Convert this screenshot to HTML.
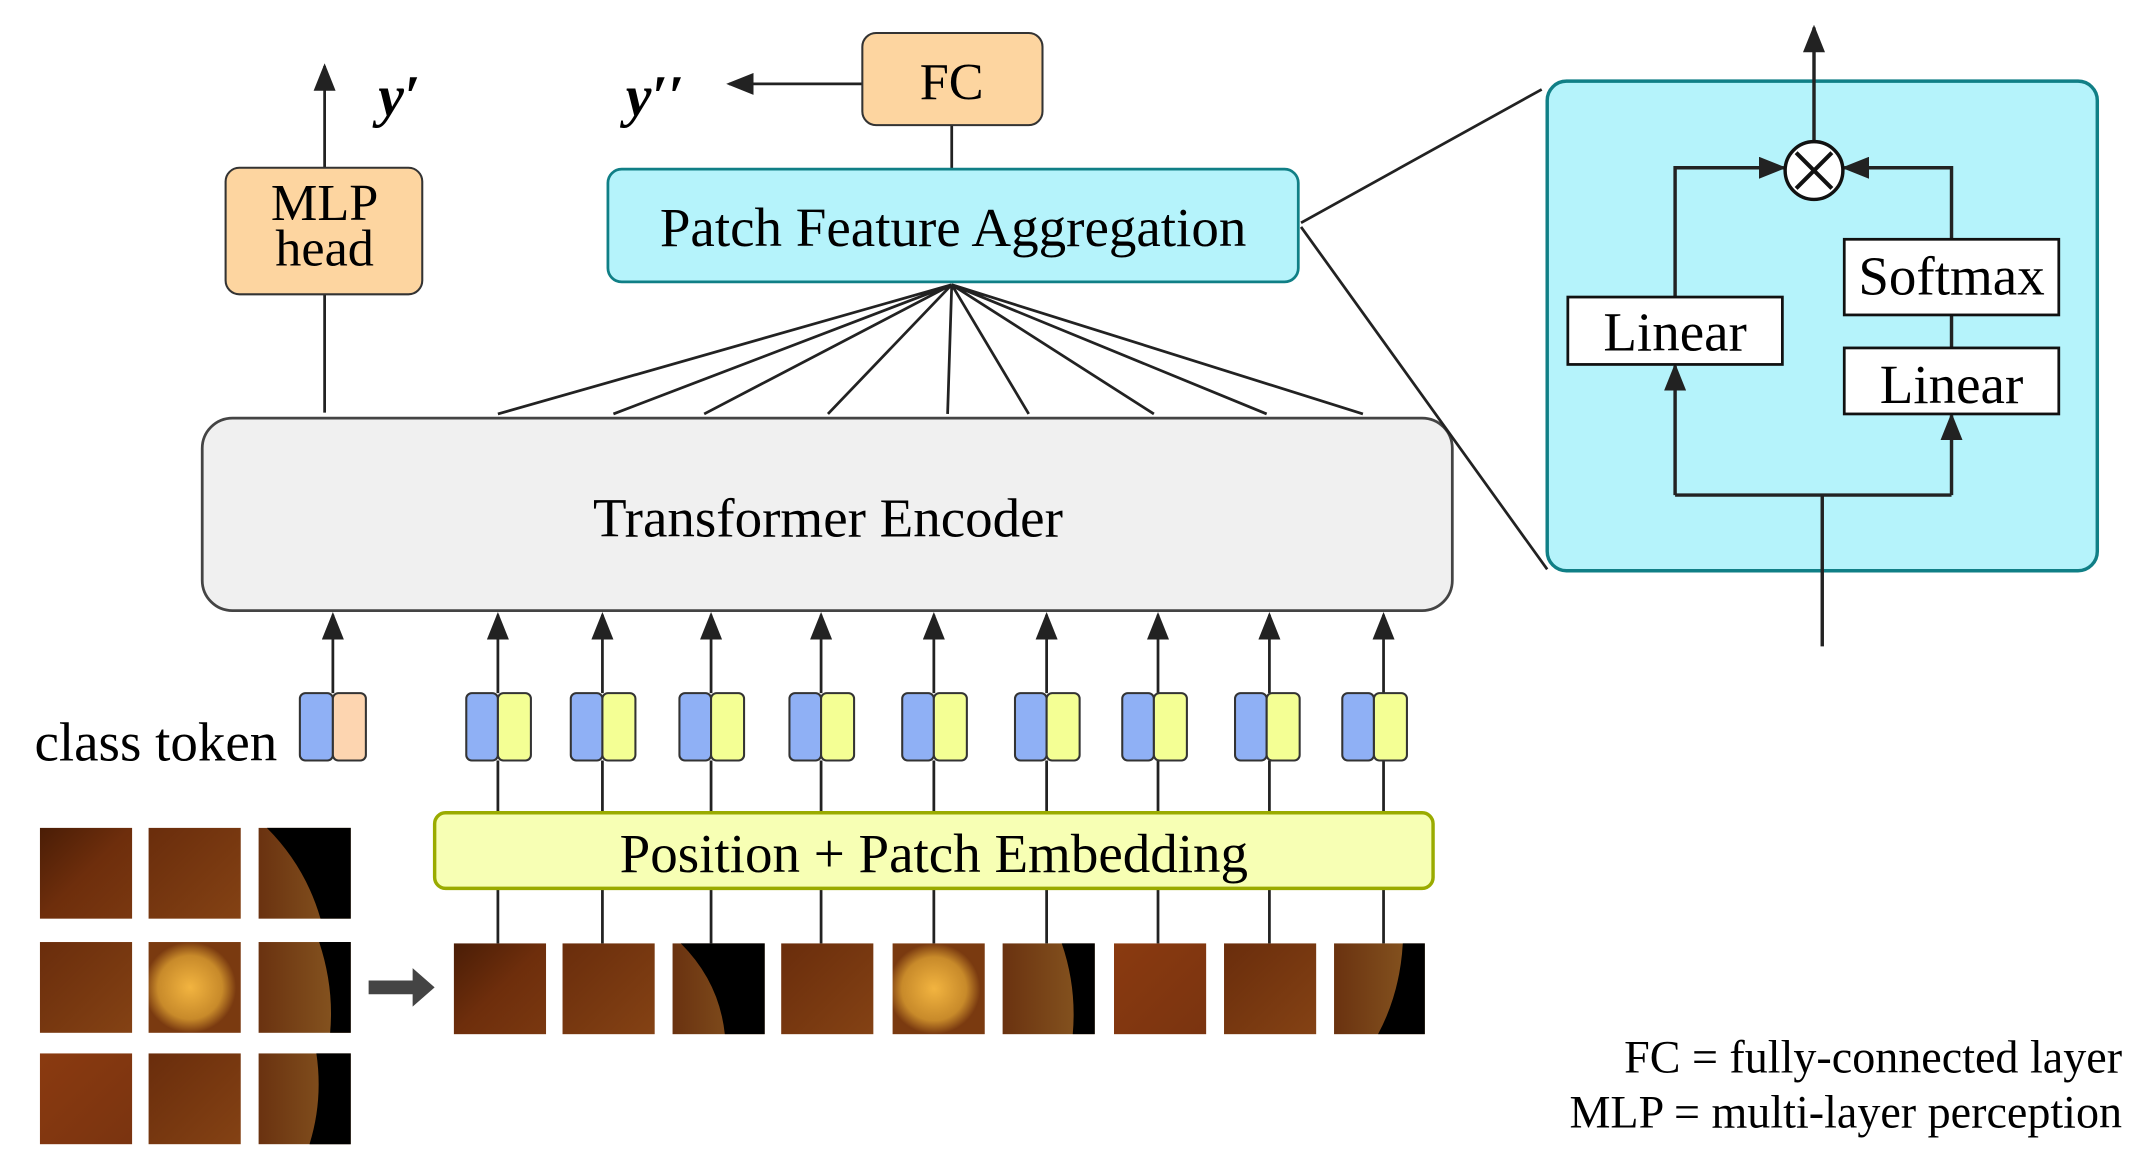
<!DOCTYPE html>
<html><head><meta charset="utf-8"><style>html,body{margin:0;padding:0;background:#fff}svg{display:block}text{font-family:"Liberation Serif",serif;fill:#000}</style></head><body>
<svg width="2151" height="1164" viewBox="0 0 1564 846.4" xmlns="http://www.w3.org/2000/svg" font-family="Liberation Serif, serif">
<defs>
<marker id="ah" markerWidth="20" markerHeight="16" refX="18" refY="8" orient="auto" markerUnits="userSpaceOnUse" viewBox="0 0 20 16"><path d="M0,0 L20,8 L0,16 z" fill="#222"/></marker>
<linearGradient id="g1" x1="0" y1="0" x2="1" y2="1"><stop offset="0" stop-color="#4a1d06"/><stop offset=".5" stop-color="#6e2e0c"/><stop offset="1" stop-color="#7a3810"/></linearGradient>
<linearGradient id="g2" x1="0" y1="0" x2="1" y2="1"><stop offset="0" stop-color="#6a2d0c"/><stop offset="1" stop-color="#844214"/></linearGradient>
<linearGradient id="g3" x1="0" y1="0" x2="1" y2="1"><stop offset="0" stop-color="#8a3a10"/><stop offset="1" stop-color="#7a3410"/></linearGradient>
<linearGradient id="g4" x1="0" y1="0" x2="1" y2="0"><stop offset="0" stop-color="#6a3210"/><stop offset="1" stop-color="#8a5a22"/></linearGradient>
<radialGradient id="gd" cx=".45" cy=".5" r=".5"><stop offset="0" stop-color="#f2b440"/><stop offset=".7" stop-color="#c88a2a"/><stop offset="1" stop-color="#7a3a10"/></radialGradient>
</defs>
<g>
<rect x="29" y="602" width="67" height="66" fill="url(#g1)"/>
<rect x="108" y="602" width="67" height="66" fill="url(#g2)"/>
<rect x="188" y="602" width="67" height="66" fill="url(#g4)"/><path d="M194,602 Q222,630 233,668 L255,668 L255,602Z" fill="#000"/>
<rect x="29" y="685" width="67" height="66" fill="url(#g2)"/>
<rect x="108" y="685" width="67" height="66" fill="url(#gd)"/>
<rect x="188" y="685" width="67" height="66" fill="url(#g4)"/><path d="M232,685 Q243,718 240,751 L255,751 L255,685Z" fill="#000"/>
<rect x="29" y="766" width="67" height="66" fill="url(#g3)"/>
<rect x="108" y="766" width="67" height="66" fill="url(#g2)"/>
<rect x="188" y="766" width="67" height="66" fill="url(#g4)"/><path d="M230,766 Q235,800 225,832 L255,832 L255,766Z" fill="#000"/>
</g>
<path d="M268,713 H300 V704 L316,718 L300,732 V723 H268Z" fill="#444"/>
<g>
<rect x="330" y="686" width="67" height="66" fill="url(#g1)"/>
<rect x="409" y="686" width="67" height="66" fill="url(#g2)"/>
<rect x="489" y="686" width="67" height="66" fill="url(#g4)"/><path d="M495,686 Q523,714 527,752 L556,752 L556,686Z" fill="#000"/>
<rect x="568" y="686" width="67" height="66" fill="url(#g2)"/>
<rect x="649" y="686" width="67" height="66" fill="url(#gd)"/>
<rect x="729" y="686" width="67" height="66" fill="url(#g4)"/><path d="M772,686 Q783,718 780,752 L796,752 L796,686Z" fill="#000"/>
<rect x="810" y="686" width="67" height="66" fill="url(#g3)"/>
<rect x="890" y="686" width="67" height="66" fill="url(#g2)"/>
<rect x="970" y="686" width="66" height="66" fill="url(#g4)"/><path d="M1020,686 Q1018,722 1002,752 L1036,752 L1036,686Z" fill="#000"/>
</g>
<g stroke="#222" stroke-width="2" fill="none">
<path d="M362,686V553M438,686V553M517,686V553M597,686V553M679,686V553M761,686V553M842,686V553M923,686V553M1006,686V553"/>
<path d="M242,504V447" marker-end="url(#ah)"/>
<path d="M362,504V447" marker-end="url(#ah)"/>
<path d="M438,504V447" marker-end="url(#ah)"/>
<path d="M517,504V447" marker-end="url(#ah)"/>
<path d="M597,504V447" marker-end="url(#ah)"/>
<path d="M679,504V447" marker-end="url(#ah)"/>
<path d="M761,504V447" marker-end="url(#ah)"/>
<path d="M842,504V447" marker-end="url(#ah)"/>
<path d="M923,504V447" marker-end="url(#ah)"/>
<path d="M1006,504V447" marker-end="url(#ah)"/>
</g>
<rect x="316" y="591" width="726" height="55" rx="8" fill="#f7ffb4" stroke="#9aab00" stroke-width="2.5"/>
<text x="679" y="634" font-size="40" text-anchor="middle">Position + Patch Embedding</text>
<g stroke="#333" stroke-width="1.5">
<rect x="218" y="504" width="24" height="49" rx="4" fill="#8fb0f5"/><rect x="242" y="504" width="24" height="49" rx="4" fill="#fdd5b0"/>
<rect x="339" y="504" width="23" height="49" rx="4" fill="#8fb0f5"/><rect x="362" y="504" width="24" height="49" rx="4" fill="#f4ff94"/>
<rect x="415" y="504" width="23" height="49" rx="4" fill="#8fb0f5"/><rect x="438" y="504" width="24" height="49" rx="4" fill="#f4ff94"/>
<rect x="494" y="504" width="23" height="49" rx="4" fill="#8fb0f5"/><rect x="517" y="504" width="24" height="49" rx="4" fill="#f4ff94"/>
<rect x="574" y="504" width="23" height="49" rx="4" fill="#8fb0f5"/><rect x="597" y="504" width="24" height="49" rx="4" fill="#f4ff94"/>
<rect x="656" y="504" width="23" height="49" rx="4" fill="#8fb0f5"/><rect x="679" y="504" width="24" height="49" rx="4" fill="#f4ff94"/>
<rect x="738" y="504" width="23" height="49" rx="4" fill="#8fb0f5"/><rect x="761" y="504" width="24" height="49" rx="4" fill="#f4ff94"/>
<rect x="816" y="504" width="23" height="49" rx="4" fill="#8fb0f5"/><rect x="839" y="504" width="24" height="49" rx="4" fill="#f4ff94"/>
<rect x="898" y="504" width="23" height="49" rx="4" fill="#8fb0f5"/><rect x="921" y="504" width="24" height="49" rx="4" fill="#f4ff94"/>
<rect x="976" y="504" width="23" height="49" rx="4" fill="#8fb0f5"/><rect x="999" y="504" width="24" height="49" rx="4" fill="#f4ff94"/>
</g>
<text x="25" y="553" font-size="40">class token</text>
<rect x="147" y="304" width="909" height="140" rx="22" fill="#f0f0f0" stroke="#444" stroke-width="2"/>
<text x="602" y="390" font-size="40" text-anchor="middle">Transformer Encoder</text>
<g stroke="#222" stroke-width="2" fill="none">
<path d="M692,207L362,301M692,207L446,301M692,207L512,301M692,207L602,301M692,207L689,301M692,207L748,301M692,207L839,301M692,207L921,301M692,207L991,301"/>
<path d="M236,300V214M692,123V91"/>
<path d="M236,122V48" marker-end="url(#ah)"/>
<path d="M627,61H530" marker-end="url(#ah)"/>
<path d="M946,162L1121,65M946,165L1125,414"/>
</g>
<rect x="442" y="123" width="502" height="82" rx="10" fill="#b5f3fb" stroke="#107f86" stroke-width="2"/>
<text x="693" y="179" font-size="40" text-anchor="middle">Patch Feature Aggregation</text>
<rect x="627" y="24" width="131" height="67" rx="10" fill="#fdd5a0" stroke="#333" stroke-width="1.5"/>
<text x="692" y="72" font-size="38" text-anchor="middle">FC</text>
<rect x="164" y="122" width="143" height="92" rx="10" fill="#fdd5a0" stroke="#333" stroke-width="1.5"/>
<text x="236" y="160" font-size="38" text-anchor="middle">MLP</text>
<text x="236" y="193" font-size="38" text-anchor="middle">head</text>
<text x="275" y="84" font-size="42" font-style="italic" font-weight="bold">y′</text>
<text x="455" y="84" font-size="42" font-style="italic" font-weight="bold">y′′</text>
<rect x="1125" y="59" width="400" height="356" rx="14" fill="#b5f3fb" stroke="#107f86" stroke-width="2.5"/>
<g stroke="#222" stroke-width="2.5" fill="none">
<path d="M1325,470V360H1218M1325,360H1419"/>
<path d="M1218,360V266" marker-end="url(#ah)"/>
<path d="M1419,360V302" marker-end="url(#ah)"/>
<path d="M1218,216V122H1297" marker-end="url(#ah)"/>
<path d="M1419,174V122H1341" marker-end="url(#ah)"/>
<path d="M1419,229V253"/>
<path d="M1319,103V20" marker-end="url(#ah)"/>
</g>
<circle cx="1319" cy="124" r="21" fill="#fff" stroke="#111" stroke-width="2.5"/>
<path d="M1306,111L1332,137M1332,111L1306,137" stroke="#111" stroke-width="3"/>
<rect x="1140" y="216" width="156" height="49" fill="#fff" stroke="#111" stroke-width="2"/>
<text x="1218" y="255" font-size="40" text-anchor="middle">Linear</text>
<rect x="1341" y="174" width="156" height="55" fill="#fff" stroke="#111" stroke-width="2"/>
<text x="1419" y="214" font-size="40" text-anchor="middle">Softmax</text>
<rect x="1341" y="253" width="156" height="48" fill="#fff" stroke="#111" stroke-width="2"/>
<text x="1419" y="293" font-size="40" text-anchor="middle">Linear</text>
<text x="1543" y="780" font-size="33.5" text-anchor="end">FC = fully-connected layer</text>
<text x="1543" y="820" font-size="33.5" text-anchor="end">MLP = multi-layer perception</text>
</svg>
</body></html>
